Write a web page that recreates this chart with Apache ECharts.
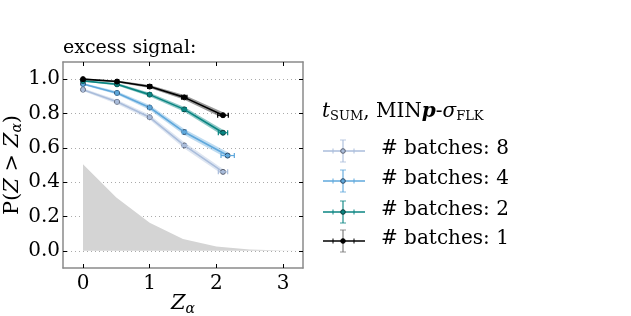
<!DOCTYPE html>
<html><head><meta charset="utf-8">
<script src="https://cdn.jsdelivr.net/npm/echarts@6/dist/echarts.min.js"></script>
<style>html,body{margin:0;padding:0;background:#fff}#c{width:631px;height:316px}</style>
</head><body><div id="c"></div>
<script>
// ---- data ----
const xTicks = [0, 1, 2, 3];
const yTicks = [0.0, 0.2, 0.4, 0.6, 0.8, 1.0];
const zNull = [0, 0.5, 1, 1.5, 2, 2.5, 3, 3.3];
const pNull = [0.505, 0.31, 0.163, 0.069, 0.025, 0.008, 0.002, 0.0];

const batchLabels = ['# batches: 8', '# batches: 4', '# batches: 2', '# batches: 1'];
const zB8 = [0, 0.51, 1.0, 1.52, 2.1];
const pB8 = [0.939, 0.868, 0.778, 0.614, 0.46];
const ePB8 = [0.008, 0.012, 0.015, 0.018, 0.017];
const eZB8 = [0.01, 0.015, 0.02, 0.03, 0.07];

const zB4 = [0, 0.51, 1.0, 1.52, 2.17];
const pB4 = [0.972, 0.92, 0.835, 0.692, 0.555];
const ePB4 = [0.006, 0.01, 0.014, 0.017, 0.019];
const eZB4 = [0.01, 0.015, 0.02, 0.03, 0.1];

const zB2 = [0, 0.51, 1.0, 1.52, 2.1];
const pB2 = [0.99, 0.97, 0.91, 0.824, 0.688];
const ePB2 = [0.004, 0.007, 0.011, 0.014, 0.018];
const eZB2 = [0.01, 0.015, 0.02, 0.03, 0.07];

const zB1 = [0, 0.51, 1.0, 1.52, 2.1];
const pB1 = [1.0, 0.986, 0.957, 0.894, 0.79];
const ePB1 = [0.004, 0.006, 0.009, 0.014, 0.018];
const eZB1 = [0.01, 0.02, 0.03, 0.04, 0.08];

// ---- styles ----
const SERIF = '"DejaVu Serif", serif';
const cols = ['#aabddb', '#5fa8dc', '#0a8582', '#000000'];
const bandCols = ['rgba(170,189,219,0.4)', 'rgba(95,168,220,0.4)', 'rgba(10,133,130,0.45)', 'rgba(0,0,0,0.4)'];
const edgeCols = ['#5a6070', '#2d4a66', '#0b3b3a', '#000'];
const sets = [
  [zB8, pB8, ePB8, eZB8],
  [zB4, pB4, ePB4, eZB4],
  [zB2, pB2, ePB2, eZB2],
  [zB1, pB1, ePB1, eZB1]
];

const series = [];
series.push({
  type: 'line', data: zNull.map((z, i) => [z, pNull[i]]), symbol: 'none',
  lineStyle: { width: 0 }, areaStyle: { color: '#d4d4d4', opacity: 1 }, z: 1, silent: true
});

sets.forEach((s, k) => {
  const [zs, ps, eps, ezs] = s;
  const segs = [];
  for (let i = 0; i < zs.length - 1; i++) {
    segs.push([zs[i], ps[i] - eps[i], ps[i] + eps[i], zs[i + 1], ps[i + 1] - eps[i + 1], ps[i + 1] + eps[i + 1]]);
  }
  series.push({
    type: 'custom', z: 2 + k * 3, silent: true, data: segs,
    renderItem: (params, api) => {
      const a = api.coord([api.value(0), api.value(1)]);
      const b = api.coord([api.value(0), api.value(2)]);
      const c = api.coord([api.value(3), api.value(5)]);
      const d = api.coord([api.value(3), api.value(4)]);
      return { type: 'polygon', shape: { points: [a, b, c, d] }, style: { fill: bandCols[k] } };
    }
  });
  series.push({
    type: 'line', z: 3 + k * 3, data: zs.map((z, i) => [z, ps[i]]),
    symbol: 'circle', symbolSize: 5,
    lineStyle: { color: cols[k], width: 1.6 },
    itemStyle: { color: cols[k], borderColor: edgeCols[k], borderWidth: 1 },
    silent: true
  });
  series.push({
    type: 'custom', z: 4 + k * 3, silent: true,
    data: zs.map((z, i) => [z, ps[i], ezs[i]]),
    renderItem: (params, api) => {
      const x = api.value(0), y = api.value(1), e = api.value(2);
      const l = api.coord([x - e, y]), r = api.coord([x + e, y]);
      const st = { stroke: cols[k], lineWidth: 1.2 };
      return { type: 'group', children: [
        { type: 'line', shape: { x1: l[0], y1: l[1], x2: r[0], y2: r[1] }, style: st },
        { type: 'line', shape: { x1: l[0], y1: l[1] - 2.5, x2: l[0], y2: l[1] + 2.5 }, style: st },
        { type: 'line', shape: { x1: r[0], y1: r[1] - 2.5, x2: r[0], y2: r[1] + 2.5 }, style: st }
      ] };
    }
  });
});

// legend (graphic)
const legG = [];
const rowsY = [151, 181, 212, 241];
const legOrder = [0, 1, 2, 3];
legOrder.forEach((k, j) => {
  const y = rowsY[j];
  const st = { stroke: cols[k], lineWidth: 1.6 };
  const vcol = k === 3 ? '#777' : cols[k];
  legG.push({ type: 'line', shape: { x1: 323, y1: y, x2: 365, y2: y }, style: st });
  legG.push({ type: 'line', shape: { x1: 333, y1: y - 2.5, x2: 333, y2: y + 2.5 }, style: { stroke: cols[k], lineWidth: 1 } });
  legG.push({ type: 'line', shape: { x1: 354, y1: y - 2.5, x2: 354, y2: y + 2.5 }, style: { stroke: cols[k], lineWidth: 1 } });
  legG.push({ type: 'line', shape: { x1: 343, y1: y - 11, x2: 343, y2: y + 11 }, style: { stroke: vcol, lineWidth: 1.4, opacity: 0.8 } });
  legG.push({ type: 'line', shape: { x1: 340, y1: y - 11, x2: 346, y2: y - 11 }, style: { stroke: vcol, lineWidth: 1, opacity: 0.8 } });
  legG.push({ type: 'line', shape: { x1: 340, y1: y + 11, x2: 346, y2: y + 11 }, style: { stroke: vcol, lineWidth: 1, opacity: 0.8 } });
  legG.push({ type: 'circle', shape: { cx: 343, cy: y, r: 2.3 }, style: { fill: cols[k], stroke: edgeCols[k], lineWidth: 1 } });
  legG.push({ type: 'text', left: 381, top: y - 12, style: { text: batchLabels[k], font: '20px ' + SERIF, fill: '#000' } });
});
legG.push({
  type: 'text', left: 322, top: 102,
  style: {
    text: '{i|t}{s|SUM}{n|, MIN}{b|p}{n|-}{i|σ}{s|FLK}',
    rich: {
      i: { fontFamily: SERIF, fontStyle: 'italic', fontSize: 20 },
      n: { fontFamily: SERIF, fontSize: 20 },
      b: { fontFamily: SERIF, fontStyle: 'italic', fontWeight: 'bold', fontSize: 20 },
      s: { fontFamily: SERIF, fontSize: 13, padding: [9, 0, 0, 0] }
    }
  }
});
legG.push({ type: 'text', left: 63, top: 39, style: { text: 'excess signal:', font: '19px ' + SERIF, fill: '#000' } });

const axisLineC = '#8a8a8a';
const option = {
  animation: false,
  grid: { left: 63, right: 328, top: 62, bottom: 48, containLabel: false, outerBoundsMode: 'none' },
  xAxis: [{
    type: 'value', min: -0.3, max: 3.3, interval: 1,
    axisLine: { show: true, onZero: false, lineStyle: { color: axisLineC, width: 1.5 } },
    axisTick: { inside: true, length: 4, lineStyle: { color: '#000' }, customValues: xTicks },
    axisLabel: { fontFamily: SERIF, fontSize: 20, color: '#000', margin: 6, customValues: xTicks, formatter: v => String(v) },
    splitLine: { show: false },
    name: '{i|Z}{s|α}', nameLocation: 'middle', nameGap: 24, nameMoveOverlap: false,
    nameTextStyle: { color: '#000', rich: {
      i: { fontFamily: SERIF, fontStyle: 'italic', fontSize: 21, color: '#000' },
      s: { fontFamily: SERIF, fontStyle: 'italic', fontSize: 14, padding: [10, 0, 0, 0], color: '#000' }
    } }
  }, {
    type: 'value', position: 'top', min: -0.3, max: 3.3, interval: 1,
    axisLine: { show: true, onZero: false, lineStyle: { color: axisLineC, width: 1.5 } },
    axisTick: { inside: true, length: 4, lineStyle: { color: '#000' }, customValues: xTicks },
    axisLabel: { show: false }, splitLine: { show: false }
  }],
  yAxis: [{
    type: 'value', min: -0.1, max: 1.1, interval: 0.2,
    axisLine: { show: true, onZero: false, lineStyle: { color: axisLineC, width: 1.5 } },
    axisTick: { inside: true, length: 4, lineStyle: { color: '#000' }, customValues: yTicks },
    axisLabel: { fontFamily: SERIF, fontSize: 20, color: '#000', margin: 3, customValues: yTicks, formatter: v => v.toFixed(1) },
    splitLine: { show: true, lineStyle: { type: [1, 3], color: '#aaaaaa', width: 1 } },
    name: '{n|P(}{i|Z}{n| > }{i|Z}{s|α}{n|)}', nameLocation: 'middle', nameGap: 34, nameRotate: 90,
    nameTextStyle: { color: '#000', rich: {
      n: { fontFamily: SERIF, fontSize: 21, color: '#000' },
      i: { fontFamily: SERIF, fontStyle: 'italic', fontSize: 21, color: '#000' },
      s: { fontFamily: SERIF, fontStyle: 'italic', fontSize: 14, padding: [10, 0, 0, 0], color: '#000' }
    } }
  }, {
    type: 'value', position: 'right', min: -0.1, max: 1.1, interval: 0.2,
    axisLine: { show: true, onZero: false, lineStyle: { color: axisLineC, width: 1.5 } },
    axisTick: { inside: true, length: 4, lineStyle: { color: '#000' }, customValues: yTicks },
    axisLabel: { show: false }, splitLine: { show: false }
  }],
  series: series,
  graphic: legG
};
const chart = echarts.init(document.getElementById('c'), null, { renderer: 'canvas' });
chart.setOption(option);
</script></body></html>
